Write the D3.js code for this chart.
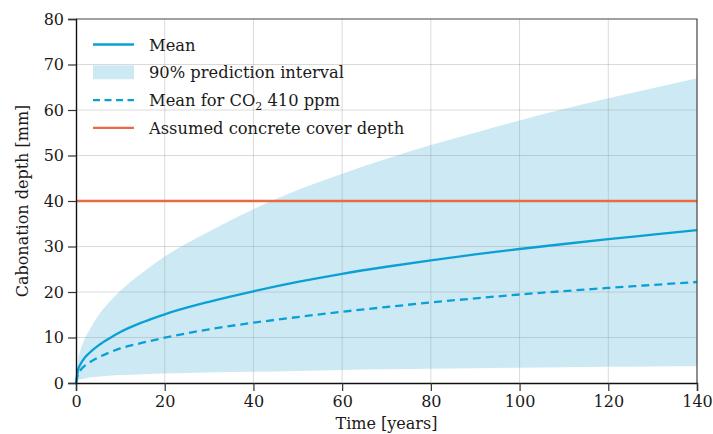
<!DOCTYPE html>
<html>
<head>
<meta charset="utf-8">
<script src="https://cdn.jsdelivr.net/npm/d3@7"></script>
<style>
  html, body { margin: 0; padding: 0; background: #fff; }
  svg { display: block; font-family: "DejaVu Serif", serif; }
</style>
</head>
<body>
<svg id="chart" width="713" height="434"></svg>
<script>
// Time axis samples (years)
const years = [0, 0.5, 1, 2, 3, 5, 7.5, 10, 15, 20, 30, 40, 50, 60, 70, 80, 90, 100, 110, 120, 130, 140];
// Mean carbonation depth (mm)
const meanDepth = [0, 3.0, 4.1, 5.6, 6.6, 8.2, 9.8, 11.2, 13.35, 15.1, 17.85, 20.15, 22.2, 24.0, 25.55, 26.95, 28.25, 29.45, 30.55, 31.6, 32.6, 33.6];
// Mean depth for CO2 at 410 ppm (mm)
const meanDepthCO2 = [0, 2.0, 2.8, 3.8, 4.5, 5.6, 6.7, 7.6, 8.85, 9.95, 11.8, 13.25, 14.5, 15.65, 16.7, 17.7, 18.6, 19.45, 20.2, 20.9, 21.55, 22.2];
// 90% prediction interval bounds (mm)
const intervalLow = [0, 0.6, 0.8, 1.0, 1.2, 1.4, 1.6, 1.75, 1.95, 2.1, 2.3, 2.45, 2.65, 2.85, 3.0, 3.15, 3.25, 3.35, 3.45, 3.55, 3.65, 3.7];
const intervalHigh = [0, 5.3, 7.2, 9.8, 11.6, 14.8, 17.8, 20.3, 24.3, 27.8, 33.3, 38.2, 42.4, 46.0, 49.3, 52.3, 55.0, 57.7, 60.2, 62.6, 64.8, 67.0];
// Assumed concrete cover depth (mm)
const coverDepth = 40;
// Axis ticks
const xTicks = [0, 20, 40, 60, 80, 100, 120, 140];
const yTicks = [0, 10, 20, 30, 40, 50, 60, 70, 80];
// Legend entries
const legendLabels = ["Mean", "90% prediction interval", "Mean for CO\u2082 410 ppm", "Assumed concrete cover depth"];

const colMean = "#0aa0d6";
const colBand = "#cdeaf4";
const colCover = "#eb6a42";

const svg = d3.select("#chart");
const margin = { left: 76, right: 16, top: 19, bottom: 51 };
const W = 713, H = 434;
const x = d3.scaleLinear().domain([0, 140]).range([margin.left, W - margin.right]);
const y = d3.scaleLinear().domain([0, 80]).range([H - margin.bottom, margin.top]);

const rows = years.map((t, i) => ({ t, m: meanDepth[i], c: meanDepthCO2[i], lo: intervalLow[i], hi: intervalHigh[i] }));

// prediction interval band
svg.append("path")
  .datum(rows)
  .attr("fill", colBand)
  .attr("d", d3.area().curve(d3.curveMonotoneX).x(d => x(d.t)).y0(d => y(d.lo)).y1(d => y(d.hi)));

// grid
const grid = svg.append("g").attr("stroke", "rgba(150,150,150,0.35)").attr("stroke-width", 1);
grid.selectAll(".gx").data(xTicks.slice(1, -1)).join("line")
  .attr("x1", d => x(d)).attr("x2", d => x(d))
  .attr("y1", y(0)).attr("y2", y(80));
grid.selectAll(".gy").data(yTicks.slice(1, -1)).join("line")
  .attr("y1", d => y(d)).attr("y2", d => y(d))
  .attr("x1", x(0)).attr("x2", x(140));

// cover depth
svg.append("line")
  .attr("x1", x(0)).attr("x2", x(140))
  .attr("y1", y(coverDepth)).attr("y2", y(coverDepth))
  .attr("stroke", colCover).attr("stroke-width", 2.4);

const line = key => d3.line().curve(d3.curveMonotoneX).x(d => x(d.t)).y(d => y(d[key]));

svg.append("path").datum(rows)
  .attr("fill", "none").attr("stroke", colMean).attr("stroke-width", 2.3)
  .attr("stroke-dasharray", "8,5")
  .attr("d", line("c"));

svg.append("path").datum(rows)
  .attr("fill", "none").attr("stroke", colMean).attr("stroke-width", 2.3)
  .attr("d", line("m"));

// frame (top/right)
svg.append("path")
  .attr("d", `M${x(0)},${y(80)}H${x(140)}V${y(0)}`)
  .attr("fill", "none").attr("stroke", "#444").attr("stroke-width", 1.2);

// axes
const xAxis = svg.append("g").attr("transform", `translate(0,${y(0)})`)
  .call(d3.axisBottom(x).tickValues(xTicks).tickSize(8).tickPadding(5).tickFormat(d3.format("d")));
const yAxis = svg.append("g").attr("transform", `translate(${x(0)},0)`)
  .call(d3.axisLeft(y).tickValues(yTicks).tickSize(8).tickPadding(4).tickFormat(d3.format("d")));
[xAxis, yAxis].forEach(g => {
  g.select(".domain").attr("stroke", "#111").attr("stroke-width", 1.4);
  g.selectAll(".tick line").attr("stroke", "#333").attr("stroke-width", 1.2);
  g.selectAll(".tick text").attr("fill", "#1a1a1a").style("font-size", "16px").style("font-family", "DejaVu Serif, serif");
});

// axis titles
svg.append("text")
  .attr("x", (x(0) + x(140)) / 2).attr("y", 429)
  .attr("text-anchor", "middle").attr("fill", "#1a1a1a").style("font-size", "16px")
  .text("Time [years]");
svg.append("text")
  .attr("transform", `translate(28,${(y(0) + y(80)) / 2}) rotate(-90)`)
  .attr("text-anchor", "middle").attr("fill", "#1a1a1a").style("font-size", "16px")
  .text("Cabonation depth [mm]");

// legend
const lg = svg.append("g");
const ly0 = 44.5, ldy = 27.8, lx1 = 93, lx2 = 134, ltx = 149;
legendLabels.forEach((lab, i) => {
  const yy = ly0 + i * ldy;
  if (i === 1) {
    lg.append("rect").attr("x", lx1).attr("y", yy - 7).attr("width", lx2 - lx1).attr("height", 14).attr("fill", colBand);
  } else {
    lg.append("line").attr("x1", lx1).attr("x2", lx2).attr("y1", yy).attr("y2", yy)
      .attr("stroke", i === 3 ? colCover : colMean).attr("stroke-width", 2.3)
      .attr("stroke-dasharray", i === 2 ? "7,4.5" : null);
  }
  const t = lg.append("text").attr("x", ltx).attr("y", yy + 6).attr("fill", "#1a1a1a").style("font-size", "16.3px");
  if (i === 2) {
    t.append("tspan").text("Mean for CO");
    t.append("tspan").attr("dy", 4).style("font-size", "11px").text("2");
    t.append("tspan").attr("dy", -4).text(" 410 ppm");
  } else {
    t.text(lab);
  }
});
</script>
</body>
</html>
